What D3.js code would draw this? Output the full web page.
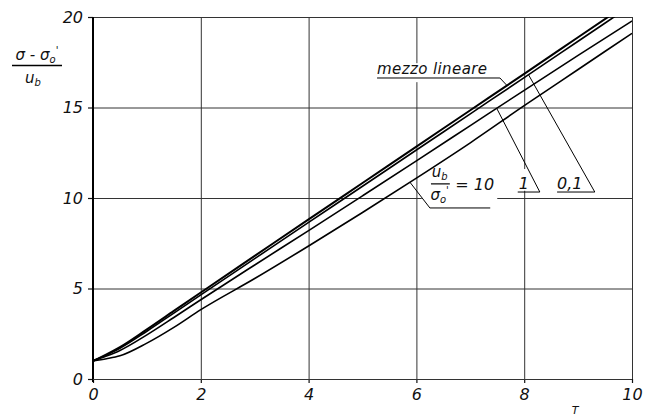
<!DOCTYPE html>
<html>
<head>
<meta charset="utf-8">
<script src="https://cdn.jsdelivr.net/npm/d3@7/dist/d3.min.js"></script>
<style>
  html, body { margin: 0; padding: 0; background: #fff; }
  svg { display: block; }
  text { font-family: "DejaVu Sans", sans-serif; font-style: italic; fill: #111; }
</style>
</head>
<body>
<svg id="chart" width="646" height="416"></svg>
<script>
// Time factor T
const T = [0, 0.25, 0.5, 1, 1.5, 2, 3, 4, 5, 6, 7, 8, 9, 10];

// (σ − σo') / ub for each curve
const linearMedium = [1.0, 1.36, 1.76, 2.74, 3.76, 4.78, 6.8, 8.82, 10.83, 12.84, 14.85, 16.86, 18.88, 20.9];
const ratio01      = [1.0, 1.33, 1.70, 2.64, 3.64, 4.65, 6.65, 8.65, 10.65, 12.65, 14.65, 16.65, 18.66, 20.67];
const ratio1       = [1.0, 1.27, 1.58, 2.44, 3.40, 4.38, 6.3, 8.2, 10.12, 12.05, 14.0, 15.95, 17.88, 19.78];
const ratio10      = [1.0, 1.12, 1.28, 1.98, 2.85, 3.83, 5.55, 7.35, 9.2, 11.1, 13.05, 15.1, 17.1, 19.1];

const xTicks = [0, 2, 4, 6, 8, 10];
const yTicks = [0, 5, 10, 15, 20];

const svg = d3.select("#chart");
const x = d3.scaleLinear().domain([0, 10]).range([93, 632]);
const y = d3.scaleLinear().domain([0, 20]).range([379, 17]);

// grid
const grid = svg.append("g").attr("stroke", "#333").attr("stroke-width", 1);
grid.selectAll("line.v").data(xTicks).join("line")
  .attr("x1", d => x(d) + 0.5).attr("x2", d => x(d) + 0.5)
  .attr("y1", y(0)).attr("y2", y(20));
grid.selectAll("line.h").data(yTicks).join("line")
  .attr("x1", x(0)).attr("x2", x(10))
  .attr("y1", d => y(d) + 0.5).attr("y2", d => y(d) + 0.5);

// white patches where annotation lettering interrupts the grid
const patches = [
  [5.25, 17.45, 7.6, 16.4],
  [6.1, 11.7, 7.5, 9.5],
  [7.85, 11.6, 8.33, 10.4]
];
svg.append("g").selectAll("rect").data(patches).join("rect")
  .attr("x", d => x(d[0])).attr("y", d => y(d[1]))
  .attr("width", d => x(d[2]) - x(d[0])).attr("height", d => y(d[3]) - y(d[1]))
  .attr("fill", "#fff");

// axes
const xAxis = d3.axisBottom(x).tickValues(xTicks).tickSize(4).tickFormat(d3.format("d"));
const yAxis = d3.axisLeft(y).tickValues(yTicks).tickSize(5).tickFormat(d3.format("d"));
const gx = svg.append("g").attr("transform", `translate(0,${y(0)})`).call(xAxis);
const gy = svg.append("g").attr("transform", `translate(${x(0)},0)`).call(yAxis);
[gx, gy].forEach(g => {
  g.select(".domain").remove();
  g.selectAll(".tick line").attr("stroke", "#111").attr("stroke-width", 1.2);
  g.selectAll(".tick text").attr("font-size", 16).attr("font-family", "DejaVu Sans")
    .attr("font-style", "italic").attr("fill", "#111");
});
gx.selectAll(".tick text").attr("dy", "0.9em");
gy.selectAll(".tick text").attr("dx", "-2");
svg.append("line").attr("x1", x(0)).attr("x2", x(0)).attr("y1", y(0) + 3).attr("y2", y(20))
  .attr("stroke", "#000").attr("stroke-width", 2);
svg.append("line").attr("x1", x(0)).attr("x2", x(10)).attr("y1", y(0) + 0.5).attr("y2", y(0) + 0.5)
  .attr("stroke", "#333").attr("stroke-width", 1.2);

// curves
svg.append("clipPath").attr("id", "plot").append("rect")
  .attr("x", x(0)).attr("y", y(20)).attr("width", x(10) - x(0)).attr("height", y(0) - y(20));
const line = d3.line().x((d, i) => x(T[i])).y(d => y(d)).curve(d3.curveMonotoneX);
const series = [
  { values: linearMedium, w: 2.0 },
  { values: ratio01, w: 1.6 },
  { values: ratio1, w: 1.6 },
  { values: ratio10, w: 1.6 }
];
svg.append("g").attr("clip-path", "url(#plot)").selectAll("path").data(series).join("path")
  .attr("d", d => line(d.values)).attr("fill", "none")
  .attr("stroke", "#000").attr("stroke-width", d => d.w);

// value of a curve at t (linear between samples)
const at = (vals, t) => {
  const i = Math.min(d3.bisectRight(T, t) - 1, T.length - 2);
  const f = (t - T[i]) / (T[i + 1] - T[i]);
  return vals[i] + f * (vals[i + 1] - vals[i]);
};

// leader lines: underline from (t0 → t1) at level v, then to the curve at tc
const leaders = [
  { vals: linearMedium, t0: 5.27, t1: 7.55, v: 16.63, tc: 7.68 },
  { vals: ratio01, t0: 8.61, t1: 9.31, v: 10.33, tc: 8.08 },
  { vals: ratio1, t0: 7.88, t1: 8.29, v: 10.33, tc: 7.49 },
  { vals: ratio10, t0: 7.37, t1: 6.25, v: 9.45, tc: 5.88 }
];
svg.append("g").selectAll("path").data(leaders).join("path")
  .attr("d", d => `M${x(d.t0)},${y(d.v)}L${x(d.t1)},${y(d.v)}L${x(d.tc)},${y(at(d.vals, d.tc))}`)
  .attr("fill", "none").attr("stroke", "#000").attr("stroke-width", 1);

// annotation lettering
svg.append("text").attr("x", x(5.27)).attr("y", y(16.85)).attr("font-size", 15)
  .attr("letter-spacing", 0.4).text("mezzo lineare");
svg.append("text").attr("x", x(7.88) + 1).attr("y", y(10.5)).attr("font-size", 16).text("1");
svg.append("text").attr("x", x(8.61)).attr("y", y(10.5)).attr("font-size", 16).text("0,1");

// ub / σo' = 10
const fr = svg.append("g").attr("font-size", 15);
const t1 = fr.append("text").attr("x", x(6.43)).attr("y", y(11.15)).attr("text-anchor", "middle");
t1.append("tspan").text("u");
t1.append("tspan").attr("font-size", 10).attr("dy", 3).text("b");
svg.append("line").attr("x1", x(6.27)).attr("x2", x(6.62)).attr("y1", y(10.78)).attr("y2", y(10.78))
  .attr("stroke", "#000").attr("stroke-width", 1.2);
const t2 = fr.append("text").attr("x", x(6.43)).attr("y", y(9.9)).attr("text-anchor", "middle");
t2.append("tspan").text("σ");
t2.append("tspan").attr("font-size", 10).attr("dy", 3).text("o");
t2.append("tspan").attr("font-size", 10).attr("dy", -9).text("'");
fr.append("text").attr("x", x(6.72)).attr("y", y(10.45)).attr("font-size", 16).text("= 10");

// y-axis title
const yt = svg.append("g").attr("font-size", 15);
const n = yt.append("text").attr("x", 37).attr("y", 60).attr("text-anchor", "middle");
n.append("tspan").text("σ - σ");
n.append("tspan").attr("font-size", 10).attr("dy", 3).text("o");
n.append("tspan").attr("font-size", 10).attr("dy", -9).text("'");
svg.append("line").attr("x1", 12).attr("x2", 62).attr("y1", 65.5).attr("y2", 65.5)
  .attr("stroke", "#000").attr("stroke-width", 1.3);
const dn = yt.append("text").attr("x", 33).attr("y", 83).attr("text-anchor", "middle");
dn.append("tspan").text("u");
dn.append("tspan").attr("font-size", 10).attr("dy", 3).text("b");

// x-axis title
svg.append("text").attr("x", 575).attr("y", 414).attr("font-size", 11).attr("text-anchor", "middle").text("T");
</script>
</body>
</html>
